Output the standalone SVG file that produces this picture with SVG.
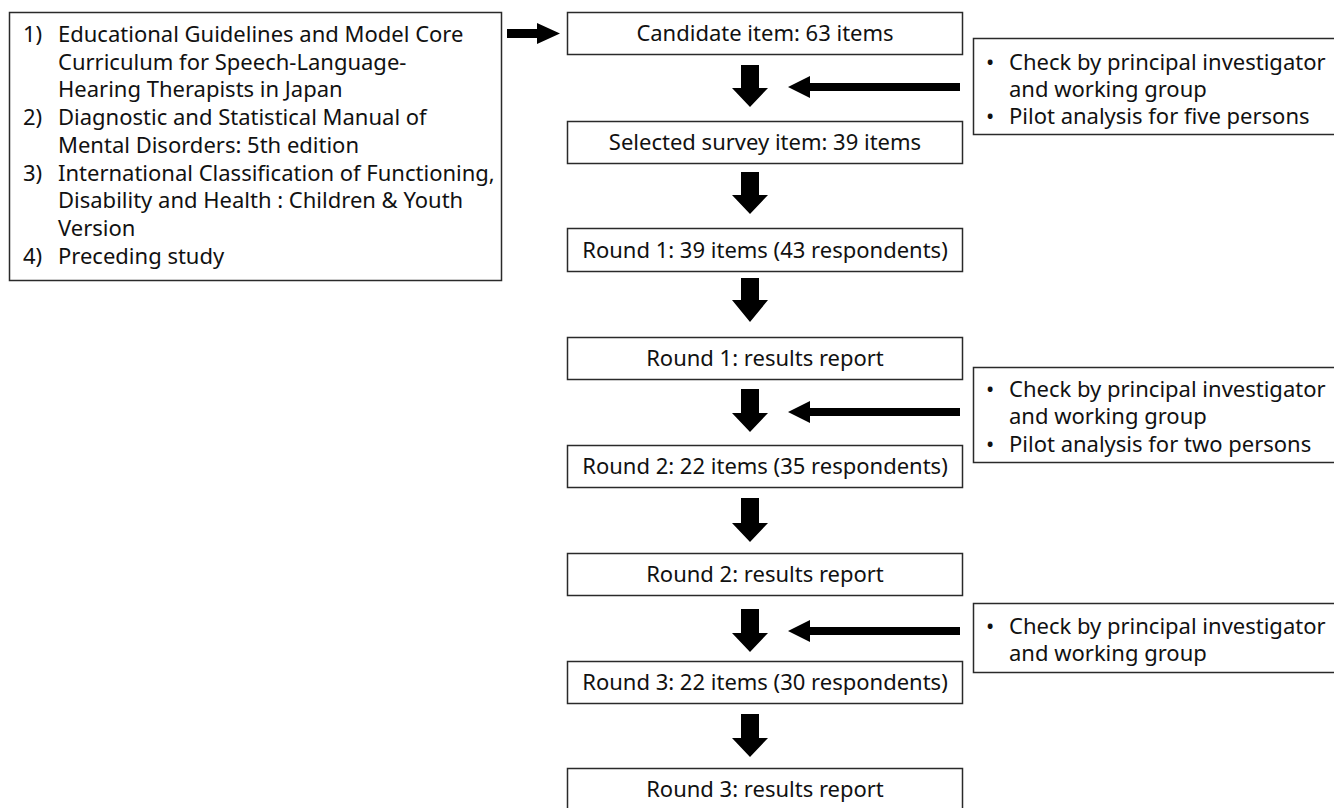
<svg xmlns="http://www.w3.org/2000/svg" width="1334" height="808" viewBox="0 0 1334 808">
<style>
.box{fill:#fff;stroke:#2a2a2a;stroke-width:1.5}
.t{font-family:"Noto Sans","Open Sans",sans-serif;font-size:22px;fill:#111}
.c{text-anchor:middle}
.arr{fill:#000}
</style>
<rect width="1334" height="808" fill="#fff"/>
<g id="sources">
<rect class="box" x="9.5" y="12.5" width="492" height="268"/>
<text class="t" x="23" y="42">1)</text>
<text class="t" x="58" y="42">Educational Guidelines and Model Core</text>
<text class="t" x="58" y="70">Curriculum for Speech-Language-</text>
<text class="t" x="58" y="97">Hearing Therapists in Japan</text>
<text class="t" x="23" y="125">2)</text>
<text class="t" x="58" y="125">Diagnostic and Statistical Manual of</text>
<text class="t" x="58" y="153">Mental Disorders: 5th edition</text>
<text class="t" x="23" y="181">3)</text>
<text class="t" x="58" y="181">International Classification of Functioning,</text>
<text class="t" x="58" y="208">Disability and Health : Children &amp; Youth</text>
<text class="t" x="58" y="236">Version</text>
<text class="t" x="23" y="264">4)</text>
<text class="t" x="58" y="264">Preceding study</text>
</g>
<g id="candidate">
<rect class="box" x="567.5" y="12.5" width="395" height="42"/>
<text class="t c" x="765" y="41">Candidate item: 63 items</text>
</g>
<g id="selected">
<rect class="box" x="567.5" y="121.5" width="395" height="42"/>
<text class="t c" x="765" y="150">Selected survey item: 39 items</text>
</g>
<g id="round1">
<rect class="box" x="567.5" y="228.5" width="395" height="43"/>
<text class="t c" x="765" y="258">Round 1: 39 items (43 respondents)</text>
</g>
<g id="round1-report">
<rect class="box" x="567.5" y="337.5" width="395" height="42"/>
<text class="t c" x="765" y="366">Round 1: results report</text>
</g>
<g id="round2">
<rect class="box" x="567.5" y="445.5" width="395" height="42"/>
<text class="t c" x="765" y="474">Round 2: 22 items (35 respondents)</text>
</g>
<g id="round2-report">
<rect class="box" x="567.5" y="553.5" width="395" height="42"/>
<text class="t c" x="765" y="582">Round 2: results report</text>
</g>
<g id="round3">
<rect class="box" x="567.5" y="661.5" width="395" height="42"/>
<text class="t c" x="765" y="690">Round 3: 22 items (30 respondents)</text>
</g>
<g id="round3-report">
<rect class="box" x="567.5" y="768.5" width="395" height="42"/>
<text class="t c" x="765" y="797">Round 3: results report</text>
</g>
<g id="check1">
<rect class="box" x="973.5" y="38.5" width="370" height="96"/>
<text class="t" x="986" y="70">•</text>
<text class="t" x="1009" y="70">Check by principal investigator</text>
<text class="t" x="1009" y="97">and working group</text>
<text class="t" x="986" y="124">•</text>
<text class="t" x="1009" y="124">Pilot analysis for five persons</text>
</g>
<g id="check2">
<rect class="box" x="973.5" y="367.5" width="370" height="95"/>
<text class="t" x="986" y="397">•</text>
<text class="t" x="1009" y="397">Check by principal investigator</text>
<text class="t" x="1009" y="424">and working group</text>
<text class="t" x="986" y="452">•</text>
<text class="t" x="1009" y="452">Pilot analysis for two persons</text>
</g>
<g id="check3">
<rect class="box" x="973.5" y="603.5" width="370" height="69"/>
<text class="t" x="986" y="634">•</text>
<text class="t" x="1009" y="634">Check by principal investigator</text>
<text class="t" x="1009" y="661">and working group</text>
</g>
<g id="connectors" class="arr">
<polygon points="507,29 537,29 537,23 560,33.5 537,44 537,38 507,38"/>
<polygon points="741,65 759,65 759,88 768,88 750,107 732,88 741,88"/>
<polygon points="741,172 759,172 759,195 768,195 750,214 732,195 741,195"/>
<polygon points="741,278 759,278 759,300 768,300 750,322 732,300 741,300"/>
<polygon points="741,389 759,389 759,413 768,413 750,432 732,413 741,413"/>
<polygon points="741,498 759,498 759,523 768,523 750,542 732,523 741,523"/>
<polygon points="741,609 759,609 759,633 768,633 750,652 732,633 741,633"/>
<polygon points="741,714 759,714 759,738 768,738 750,757 732,738 741,738"/>
<polygon points="960,83 810,83 810,76 788,87 810,98 810,91 960,91"/>
<polygon points="960,408 810,408 810,401 788,412 810,423 810,416 960,416"/>
<polygon points="960,627 810,627 810,620 788,631 810,642 810,635 960,635"/>
</g>
</svg>
